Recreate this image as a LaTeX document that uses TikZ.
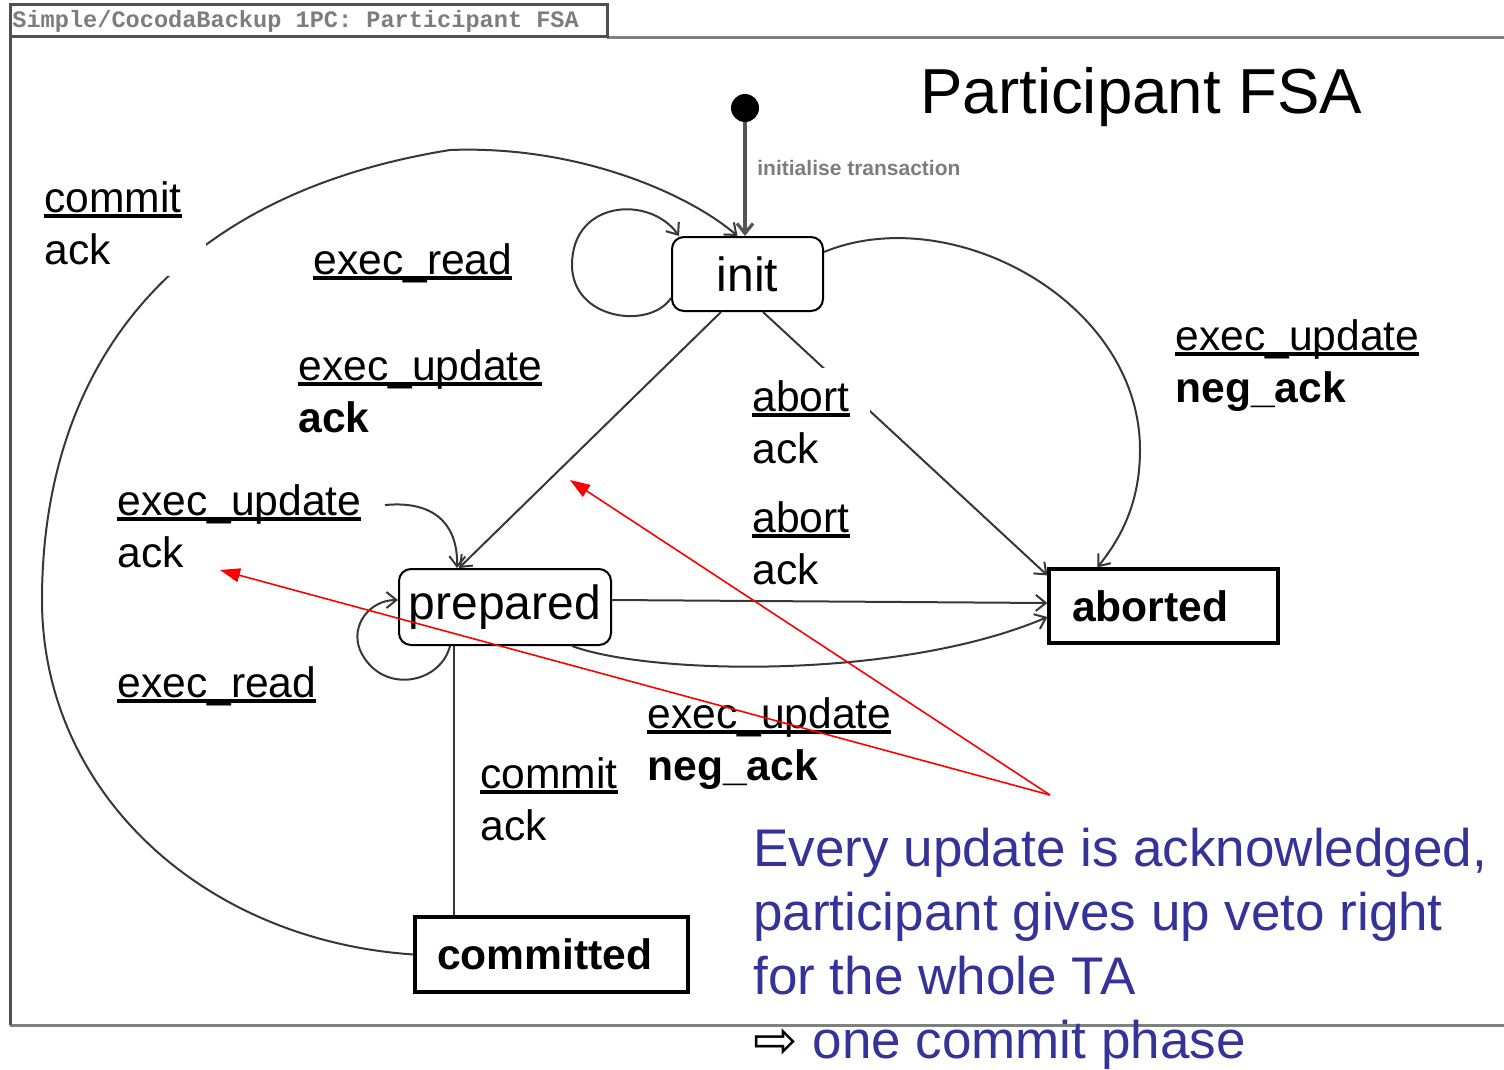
\documentclass[tikz,border=0pt]{standalone}
\usepackage{fontspec}
\setmainfont{Liberation Sans}
\newfontfamily\djv{DejaVu Sans}
\newfontfamily\monofam{Liberation Mono}
\usetikzlibrary{arrows.meta}
\definecolor{edgegray}{RGB}{55,55,55}
\definecolor{noteblue}{RGB}{51,51,153}
\definecolor{framegray}{RGB}{80,80,80}
\definecolor{frameline}{RGB}{128,128,128}
\definecolor{bargray}{RGB}{125,125,125}
\newcommand{\lblfont}{\fontsize{21.3}{26}\selectfont}
\newcommand{\myul}[1]{\setbox0=\hbox{#1}\rlap{\rule[-0.13em]{\wd0}{0.085em}}\box0}
\tikzset{
  statebox/.style={draw=black, line width=1pt, rounded corners=6pt, fill=white,
    font=\fontsize{24}{28}\selectfont, inner sep=0pt},
  finalbox/.style={draw=black, line width=1.6pt, fill=white, font=\bfseries\lblfont,
    align=left, inner ysep=0pt},
  lbl/.style={fill=white, anchor=base west, align=left, inner xsep=10pt, inner ysep=6pt, font=\lblfont},
  edge/.style={draw=edgegray, line width=1pt, -{Straight Barb[length=5pt,width=8pt]}},
  plainedge/.style={draw=edgegray, line width=1pt},
  noteline/.style={draw=red, line width=0.8pt, -{Triangle[length=10pt,width=7pt]}},
}
\begin{document}
\begin{tikzpicture}[x=0.5pt, y=-0.5pt]
\useasboundingbox (0,0) rectangle (1504,1070);
% window frame
\draw[frameline, line width=1.5pt] (607,38) -- (1504,38);
\draw[frameline, line width=1.5pt] (10,1025) -- (1504,1025);
\draw[framegray, line width=1.5pt] (10,1025) -- (10,5) -- (607,5) -- (607,37) -- (10,37);
\node[anchor=west, inner sep=0pt, text=bargray, font=\monofam\bfseries\fontsize{11.8}{13}\selectfont]
  (bar) at (12,21) {Simple/CocodaBackup 1PC: Participant FSA};
% title
\node[anchor=base west, inner sep=0pt, font=\fontsize{31.8}{36}\selectfont] (title) at (920,113) {Participant FSA};

% states
\node[circle, fill=black, minimum size=14pt, inner sep=0pt] (start) at (745,108) {};
\node[statebox, minimum width=75.5pt, minimum height=37pt] (init) at (747.5,274) {init};
\node[statebox, minimum width=106pt, minimum height=38pt] (prepared) at (505,607) {prepared};
\node[finalbox, text width=91.5pt, inner xsep=11.5pt, minimum height=37pt] (aborted) at (1163.5,606) {aborted};
\node[finalbox, text width=114.5pt, inner xsep=11pt, minimum height=37.5pt] (committed) at (551.5,954.5) {committed};

% edges
\draw[edge, draw=edgegray!85, line width=1.6pt] (start) -- (start |- init.north);
\node[anchor=west, inner sep=0pt, text=bargray, font=\bfseries\fontsize{10.5}{12}\selectfont] (initlbl) at (757,168) {initialise transaction};

\draw[edge] ([yshift=-12pt]init.west) .. controls (650,330) and (572,320) .. (572,265)
  .. controls (572,200) and (650,195) .. ([xshift=4pt]init.north west);
\draw[edge] ([xshift=25pt]init.south west) -- ([xshift=30.5pt]prepared.north west);
\draw[edge] ([xshift=46pt]init.south west) -- ([yshift=-4pt]aborted.north west);
\draw[edge] ([yshift=11pt]init.east) .. controls (950,200) and (1140,300) .. (1140,450)
  .. controls (1140,510) and (1115,545) .. ([xshift=25pt]aborted.north west);
\draw[edge] (committed.west) .. controls (200,940) and (42,790) .. (42,600)
  .. controls (42,400) and (140,200) .. (450,150)
  .. controls (580,145) and (690,195) .. ([xshift=-5pt]init.north);
\coordinate (looptop) at (385,505);
\draw[edge] (looptop) .. controls (440,500) and (458,530) .. ([xshift=29.5pt]prepared.north west);
\draw[edge] ([xshift=26pt]prepared.south west) .. controls (440,685) and (380,695) .. (360,650)
  .. controls (350,625) and (370,600) .. ([yshift=3.5pt]prepared.west);
\draw[edge] ([yshift=3.5pt]prepared.east) -- ([yshift=1.5pt]aborted.west);
\draw[edge] ([xshift=-20pt]prepared.south east) .. controls (650,675) and (900,680) .. ([yshift=-5.5pt]aborted.west);
\draw[plainedge] ([xshift=28pt]prepared.south west) -- ([xshift=28pt]prepared.south west |- committed.north);

% labels (base anchor = baseline of last line)
\node[lbl, inner xsep=12pt] (l1) at (20,264) {\myul{commit}\\ack};
\node[lbl] (l2) at (293,274) {\myul{exec\_read}};
\node[lbl] (l3) at (278,432) {\myul{exec\_update}\\\textbf{ack}};
\node[lbl] (l4) at (732,463) {\myul{abort}\\ack};
\node[lbl] (l5) at (732,584) {\myul{abort}\\ack};
\node[lbl] (l6) at (1155,402) {\myul{exec\_update}\\\textbf{neg\_ack}};
\node[lbl] (l7) at (97,567) {\myul{exec\_update}\\ack};
\node[lbl] (l8) at (97,697) {\myul{exec\_read}};
\node[lbl] (l9) at (627,780) {\myul{exec\_update}\\\textbf{neg\_ack}};
\node[lbl] (l10) at (460,840) {\myul{commit}\\ack};

% note
\node[anchor=base west, inner sep=0pt, align=left, text=noteblue, font=\fontsize{26.5}{32}\selectfont] (note) at (753,1058)
  {Every update is acknowledged,\\participant gives up veto right\\for the whole TA\\{\djv\color{black}⇨}\ one commit phase};

\coordinate (rsrc) at (1050,795);
\coordinate (rt1) at (570,480);
\coordinate (rt2) at (220,570);
\draw[noteline] (rsrc) -- (rt1);
\draw[noteline] (rsrc) -- (rt2);
\end{tikzpicture}
\end{document}
